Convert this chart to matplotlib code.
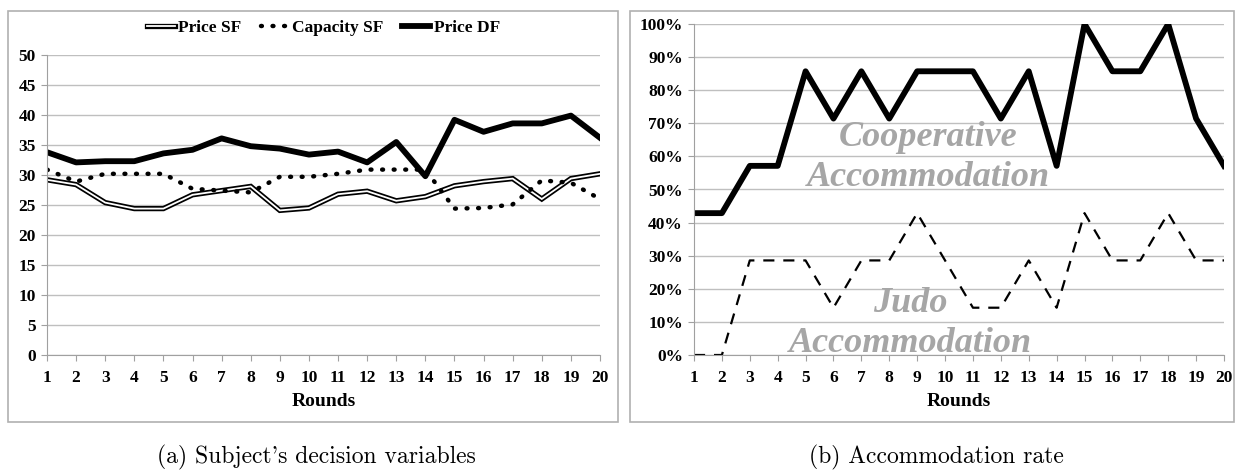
import numpy as np
import matplotlib.pyplot as plt
from matplotlib.patches import Rectangle
from matplotlib.legend_handler import HandlerTuple
from matplotlib.ticker import FuncFormatter

rounds = list(range(1, 21))

# panel (a)
price_sf = [29.2, 28.4, 25.4, 24.4, 24.4, 26.7, 27.4, 28.1, 24.1, 24.5,
            26.8, 27.3, 25.7, 26.4, 28.2, 28.9, 29.4, 26.0, 29.4, 30.2]
capacity_sf = [30.9, 28.9, 30.2, 30.2, 30.2, 27.7, 27.4, 27.1, 29.7, 29.7,
               30.2, 30.9, 30.9, 30.9, 24.4, 24.5, 25.1, 29.1, 28.7, 26.0]
price_df = [33.8, 32.1, 32.3, 32.3, 33.6, 34.2, 36.1, 34.8, 34.4, 33.4,
            33.9, 32.1, 35.5, 29.8, 39.2, 37.2, 38.6, 38.6, 39.9, 36.2]

# panel (b), share of 7 subjects
coop = np.array([3, 3, 4, 4, 6, 5, 6, 5, 6, 6, 6, 5, 6, 4, 7, 6, 6, 7, 5, 4]) / 7
judo = np.array([0, 0, 2, 2, 2, 1, 2, 2, 3, 2, 1, 1, 2, 1, 3, 2, 2, 3, 2, 2]) / 7

serif = 'Liberation Serif'
grid_c = '#bfbfbf'

fig = plt.figure(figsize=(12.38, 4.73), dpi=100)

# panel frames
for x0, x1 in [(8, 618), (630, 1234)]:
    fig.patches.append(Rectangle((x0 / 1238, 1 - 422 / 473), (x1 - x0) / 1238, (422 - 11) / 473,
                                 transform=fig.transFigure, fill=False, ec='#b0b0b0', lw=1.2))


def style(ax):
    ax.set_xlim(1, 20)
    ax.set_xticks(rounds)
    ax.grid(axis='y', color=grid_c, lw=1)
    ax.set_axisbelow(True)
    for s in ['top', 'right']:
        ax.spines[s].set_visible(False)
    for s in ['left', 'bottom']:
        ax.spines[s].set_color('#a0a0a0')
    ax.tick_params(axis='y', length=4, color='#a0a0a0', pad=4)
    ax.tick_params(axis='x', length=4, color='#a0a0a0', pad=7)
    for lab in ax.get_xticklabels() + ax.get_yticklabels():
        lab.set_fontfamily(serif)
        lab.set_fontweight('bold')
        lab.set_fontsize(12.5)
    ax.set_xlabel('Rounds', fontfamily=serif, fontweight='bold', fontsize=14, labelpad=5)


# (a)
ax1 = fig.add_axes([47 / 1238, 1 - 355 / 473, (600 - 47) / 1238, 300 / 473])
ax1.set_ylim(0, 50)
ax1.set_yticks(range(0, 51, 5))
l1, = ax1.plot(rounds, price_sf, color='black', lw=3.8, solid_joinstyle='miter')
l2, = ax1.plot(rounds, price_sf, color='white', lw=1.3, solid_joinstyle='miter')
l3, = ax1.plot(rounds, capacity_sf, color='black', lw=3.2, linestyle=(0, (0.2, 2.4)),
               dash_capstyle='round')
l4, = ax1.plot(rounds, price_df, color='black', lw=4.2)
style(ax1)
ax1.legend([(l1, l2), l3, l4], ['Price SF', 'Capacity SF', 'Price DF'],
           handler_map={tuple: HandlerTuple(ndivide=1)}, ncol=3,
           loc='center', bbox_to_anchor=(0.5, (355 - 28) / 300), frameon=False,
           handlelength=1.6, handletextpad=0.2, columnspacing=1.1,
           prop={'family': serif, 'weight': 'bold', 'size': 12.5})

# (b)
ax2 = fig.add_axes([694 / 1238, 1 - 355 / 473, (1224 - 694) / 1238, 331 / 473])
ax2.set_ylim(0, 1)
ax2.set_yticks(np.arange(0, 1.01, 0.1))
ax2.yaxis.set_major_formatter(FuncFormatter(lambda v, p: f'{v * 100:.0f}%'))
ax2.plot(rounds, coop, color='black', lw=4.2)
ax2.plot(rounds, judo, color='black', lw=1.6, linestyle=(0, (5, 4)))
style(ax2)
txt = dict(color='#a6a6a6', fontfamily=serif, fontweight='bold', fontstyle='italic',
           fontsize=26, ha='center', va='center')
ax2.text(9.4, 0.656, 'Cooperative', **txt)
ax2.text(9.4, 0.535, 'Accommodation', **txt)
ax2.text(8.75, 0.157, 'Judo', **txt)
ax2.text(8.75, 0.036, 'Accommodation', **txt)

# captions
cap = dict(fontfamily=['cmr10', 'DejaVu Serif'], fontsize=17, ha='center', va='center')
fig.text(316 / 1238, 1 - 457 / 473, "(a) Subject's decision variables", **cap)
fig.text(936 / 1238, 1 - 457 / 473, '(b) Accommodation rate', **cap)

fig.savefig('out.png', dpi=100)
